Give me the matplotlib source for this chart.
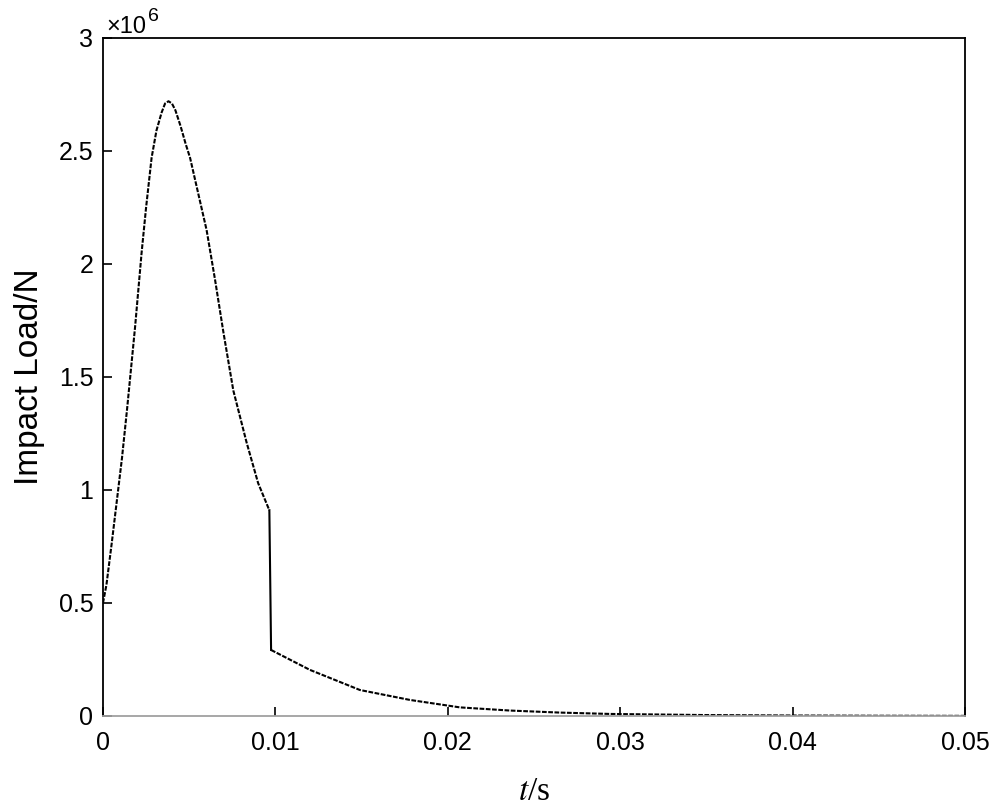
import matplotlib.pyplot as plt
from matplotlib.ticker import FuncFormatter

# readings (t in s, load in N)
t_rise = [0.0, 0.0002, 0.0005, 0.0008, 0.0011, 0.0014, 0.00186, 0.00224,
          0.0025, 0.00282, 0.0031, 0.0034, 0.0036, 0.0038, 0.0040, 0.0042,
          0.0045, 0.0048, 0.00505, 0.0055, 0.00601, 0.0065, 0.00698,
          0.00756, 0.00833, 0.0090, 0.00965]
load_rise = [0.50e6, 0.58e6, 0.76e6, 0.95e6, 1.14e6, 1.36e6, 1.72e6, 2.05e6,
             2.25e6, 2.47e6, 2.59e6, 2.67e6, 2.71e6, 2.72e6, 2.71e6, 2.68e6,
             2.61e6, 2.53e6, 2.47e6, 2.32e6, 2.15e6, 1.93e6, 1.70e6,
             1.44e6, 1.21e6, 1.03e6, 0.91e6]
t_tail = [0.00975, 0.012, 0.0149, 0.0178, 0.0207, 0.0236, 0.0265, 0.0294,
          0.035, 0.040, 0.045, 0.050]
load_tail = [0.292e6, 0.204e6, 0.115e6, 0.071e6, 0.038e6, 0.024e6, 0.015e6,
             0.009e6, 0.004e6, 0.002e6, 0.001e6, 0.0005e6]

x_ticks = [0, 0.01, 0.02, 0.03, 0.04, 0.05]
y_ticks = [0, 0.5e6, 1e6, 1.5e6, 2e6, 2.5e6, 3e6]

plt.rcParams['font.family'] = ['Liberation Sans', 'DejaVu Sans']
plt.rcParams['lines.scale_dashes'] = False

fig = plt.figure(figsize=(9.96, 8.06), dpi=100)
ax = fig.add_axes([0.1034, 0.1117, 0.8655, 0.8412])

dash = (3.4, 1.1)
ax.plot(t_rise, load_rise, color='black', lw=1.5, dashes=dash)
# the drop is drawn solid
ax.plot([t_rise[-1], t_tail[0]], [load_rise[-1], load_tail[0]], color='black', lw=1.5)
ax.plot(t_tail, load_tail, color='black', lw=1.5, dashes=dash)

ax.set_xlim(0, 0.05)
ax.set_ylim(0, 3e6)
ax.set_xticks(x_ticks)
ax.set_yticks(y_ticks)
ax.xaxis.set_major_formatter(FuncFormatter(lambda v, p: f"{v:g}"))
ax.yaxis.set_major_formatter(FuncFormatter(lambda v, p: f"{v / 1e6:g}"))
ax.tick_params(direction='in', length=6.5, width=1.2, labelsize=18, colors='black')
ax.tick_params(axis='x', pad=11)
ax.tick_params(axis='y', pad=7)

for side in ['left', 'top', 'right']:
    ax.spines[side].set_linewidth(1.3)
ax.spines['bottom'].set_color('#a0a0a0')
ax.spines['bottom'].set_linewidth(1.3)

ax.set_ylabel("Impact Load/N", fontsize=24, labelpad=10)
ax.set_xlabel(r"$\mathit{t}$/s", fontsize=24, family='Liberation Serif',
              math_fontfamily='stix', labelpad=15)

fig.text(106 / 996, 1 - 33 / 806, "\u00d710", fontsize=17, ha='left', va='baseline')
fig.text(148 / 996, 1 - 21 / 806, "6", fontsize=14, ha='left', va='baseline')

fig.savefig("out.png", dpi=100)
